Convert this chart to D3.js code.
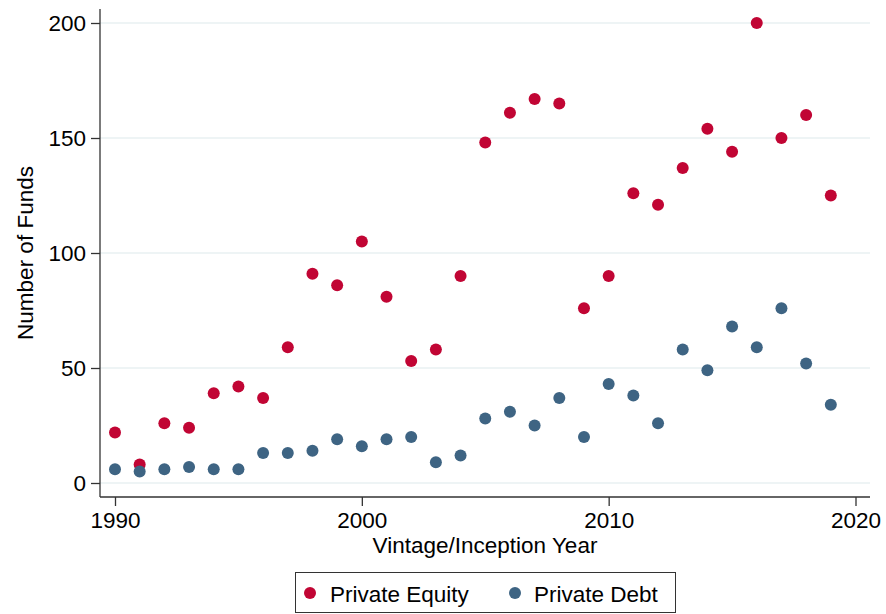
<!DOCTYPE html>
<html>
<head>
<meta charset="utf-8">
<script src="https://cdn.jsdelivr.net/npm/d3@7/dist/d3.min.js"></script>
<style>
  html, body { margin: 0; padding: 0; background: #fff; }
  svg { display: block; font-family: "Liberation Sans", Arial, Helvetica, sans-serif; }
</style>
</head>
<body>
<svg id="chart" width="886" height="614"></svg>
<script>
// Vintage years and number of funds per strategy
const years = [1990,1991,1992,1993,1994,1995,1996,1997,1998,1999,
               2000,2001,2002,2003,2004,2005,2006,2007,2008,2009,
               2010,2011,2012,2013,2014,2015,2016,2017,2018,2019];
const privateEquity = [22,8,26,24,39,42,37,59,91,86,
                       105,81,53,58,90,148,161,167,165,76,
                       90,126,121,137,154,144,200,150,160,125];
const privateDebt = [6,5,6,7,6,6,13,13,14,19,
                     16,19,20,9,12,28,31,25,37,20,
                     43,38,26,58,49,68,59,76,52,34];
const xTicks = [1990, 2000, 2010, 2020];
const yTicks = [0, 50, 100, 150, 200];

const series = [
  { name: "Private Equity", values: privateEquity, color: "#c10534" },
  { name: "Private Debt",   values: privateDebt,   color: "#3e6483" }
];

const FONT = "22.5px";
const svg = d3.select("#chart");
const plot = { left: 100, right: 870, top: 9, bottom: 497 };

const x = d3.scaleLinear().domain([1990, 2020]).range([115, 855.5]);
const y = d3.scaleLinear().domain([0, 200]).range([483, 23]);

// horizontal grid lines
svg.append("g")
  .selectAll("line")
  .data(yTicks)
  .join("line")
  .attr("x1", plot.left).attr("x2", plot.right)
  .attr("y1", d => y(d)).attr("y2", d => y(d))
  .attr("stroke", "#e8f0f2")
  .attr("stroke-width", 1.5);

// y axis
const yAxis = svg.append("g")
  .attr("transform", `translate(${plot.left},0)`)
  .call(d3.axisLeft(y).tickValues(yTicks).tickSize(9).tickPadding(5).tickFormat(d3.format("d")));
yAxis.select(".domain").attr("d", `M0,${plot.top}V${plot.bottom}`);

// x axis
const xAxis = svg.append("g")
  .attr("transform", `translate(0,${plot.bottom})`)
  .call(d3.axisBottom(x).tickValues(xTicks).tickSize(9).tickPadding(6).tickFormat(d3.format("d")));
xAxis.select(".domain").attr("d", `M${plot.left},0H${plot.right}`);

[yAxis, xAxis].forEach(ax => {
  ax.select(".domain").attr("stroke", "#333").attr("stroke-width", 1.3);
  ax.selectAll(".tick line").attr("stroke", "#333").attr("stroke-width", 1.3);
  ax.selectAll(".tick text").attr("fill", "#000").style("font-size", FONT);
});

// axis titles
svg.append("text")
  .attr("transform", "translate(33,253) rotate(-90)")
  .attr("text-anchor", "middle")
  .style("font-size", FONT)
  .text("Number of Funds");

svg.append("text")
  .attr("x", 485).attr("y", 553)
  .attr("text-anchor", "middle")
  .style("font-size", FONT)
  .text("Vintage/Inception Year");

// scatter points
series.forEach(s => {
  svg.append("g")
    .selectAll("circle")
    .data(years.map((yr, i) => ({ yr, v: s.values[i] })))
    .join("circle")
    .attr("cx", d => x(d.yr))
    .attr("cy", d => y(d.v))
    .attr("r", 6)
    .attr("fill", s.color);
});

// legend
const legend = svg.append("g");
legend.append("rect")
  .attr("x", 295.5).attr("y", 572.5)
  .attr("width", 380).attr("height", 40)
  .attr("fill", "#fff")
  .attr("stroke", "#333").attr("stroke-width", 1);

const legendPos = [{ cx: 310, tx: 330 }, { cx: 515, tx: 534 }];
series.forEach((s, i) => {
  legend.append("circle")
    .attr("cx", legendPos[i].cx).attr("cy", 593)
    .attr("r", 6).attr("fill", s.color);
  legend.append("text")
    .attr("x", legendPos[i].tx).attr("y", 601.5)
    .style("font-size", FONT)
    .text(s.name);
});
</script>
</body>
</html>
